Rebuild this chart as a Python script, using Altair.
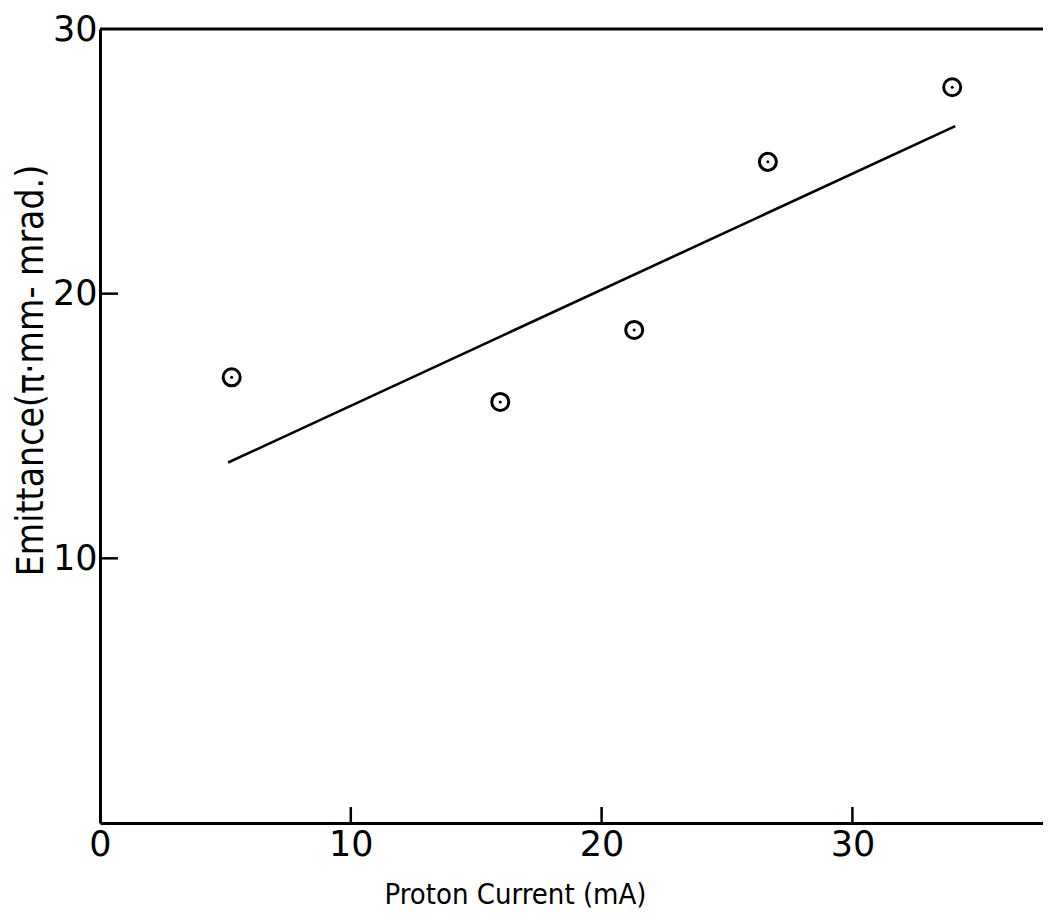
import altair as alt
import pandas as pd

current = [5.25, 15.96, 21.3, 26.63, 33.98]
emittance = [16.84, 15.91, 18.63, 24.98, 27.8]

# Fitted straight line endpoints
fit_current = [5.11, 34.1]
fit_emittance = [13.62, 26.33]

x_ticks = [0, 10, 20, 30]
y_ticks = [10, 20, 30]
x_tick_marks = [10, 20, 30]
y_tick_marks = [10, 20]

X_MAX = 37.6
Y_MAX = 30
TOP = 21
W, H = 943, 815 - TOP

pts = pd.DataFrame({"current": current, "emittance": emittance})
fit = pd.DataFrame({"current": fit_current, "emittance": fit_emittance})
xt = pd.DataFrame({"v": x_tick_marks})
yt = pd.DataFrame({"v": y_tick_marks})

xscale = alt.Scale(domain=[0, X_MAX], nice=False, zero=False)
yscale = alt.Scale(domain=[0, Y_MAX], nice=False, zero=False)

tick_font = "DejaVu Sans"

xaxis = alt.Axis(
    title="Proton Current (mA)", values=x_ticks, grid=False, ticks=False, tickSize=0,
    labelFlush=False, labelFont=tick_font, labelFontSize=35, labelFontWeight="normal",
    labelColor="black", labelPadding=4, domainColor="black", domainWidth=3,
    titleFont="DejaVu Sans Condensed", titleFontSize=29, titleFontWeight="normal",
    titleColor="black", titleX=415, titleY=80, titleBaseline="alphabetic", titleAnchor="middle",
    labelOverlap=False,
)
yaxis = alt.Axis(
    title="Emittance(π·mm- mrad.)", values=y_ticks, grid=False, ticks=False, tickSize=0,
    labelFont=tick_font, labelFontSize=35, labelFontWeight="normal", labelColor="black",
    labelPadding=3, domainColor="black", domainWidth=3,
    titleFont="DejaVu Sans Condensed", titleFontSize=37, titleFontWeight="normal",
    titleColor="black", titleX=-58, titleY=370 - 8 - TOP, titleAngle=270,
    titleBaseline="alphabetic", titleAlign="center", labelOverlap=False,
)

base_x = alt.X("current:Q", scale=xscale, axis=xaxis)
base_y = alt.Y("emittance:Q", scale=yscale, axis=yaxis)

circles = alt.Chart(pts).mark_point(
    shape="circle", size=290, strokeWidth=3, color="black", filled=False, opacity=1
).encode(x=base_x, y=base_y)

dots = alt.Chart(pts).mark_point(
    shape="circle", size=9, color="black", filled=True, opacity=1
).encode(x=alt.X("current:Q", scale=xscale), y=alt.Y("emittance:Q", scale=yscale))

line = alt.Chart(fit).mark_line(color="black", strokeWidth=2.6).encode(
    x=alt.X("current:Q", scale=xscale), y=alt.Y("emittance:Q", scale=yscale)
)

top = alt.Chart(pd.DataFrame({"y": [Y_MAX]})).mark_rule(color="black", strokeWidth=3).encode(
    y=alt.Y("y:Q", scale=yscale), x=alt.value(0), x2=alt.value(W)
)

xtm = alt.Chart(xt).mark_rule(color="black", strokeWidth=2.5).encode(
    x=alt.X("v:Q", scale=xscale), y=alt.value(H), y2=alt.value(H - 16)
)
ytm = alt.Chart(yt).mark_rule(color="black", strokeWidth=2.5).encode(
    y=alt.Y("v:Q", scale=yscale), x=alt.value(0), x2=alt.value(18)
)

chart = alt.layer(circles, line, dots, top, xtm, ytm).properties(
    width=W, height=H,
    autosize=alt.AutoSizeParams(type="none"),
    padding={"left": 92, "top": TOP, "right": 0, "bottom": 90},
).configure_view(stroke=None).configure(background="white")

chart.save("out.html", embed_options={"renderer": "svg", "actions": False})
